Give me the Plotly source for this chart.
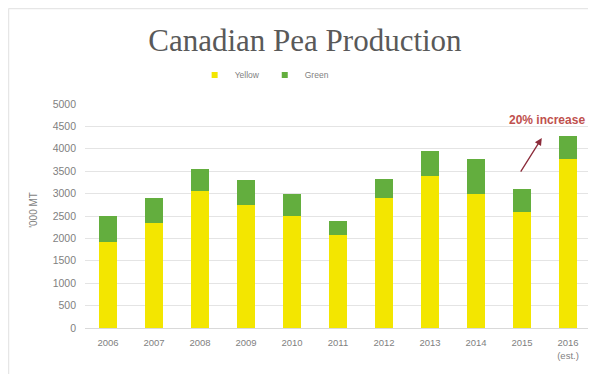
import plotly.graph_objects as go

years = ["2006", "2007", "2008", "2009", "2010", "2011", "2012", "2013", "2014", "2015", "2016<br>(est.)"]
yellow = [1930, 2340, 3050, 2740, 2490, 2080, 2900, 3400, 2990, 2600, 3770]
green = [560, 560, 500, 560, 500, 300, 430, 540, 790, 500, 510]
y_ticks = [0, 500, 1000, 1500, 2000, 2500, 3000, 3500, 4000, 4500, 5000]

YELLOW = "#F3E600"
GREEN = "#63AE3E"
TXT = "#7f7f7f"
FONT = "Liberation Sans, Arial"

fig = go.Figure()
fig.add_trace(go.Bar(x=years, y=yellow, name="Yellow", showlegend=False,
                     marker=dict(color=YELLOW, line=dict(width=0))))
fig.add_trace(go.Bar(x=years, y=green, name="Green", showlegend=False,
                     marker=dict(color=GREEN, line=dict(width=0))))
# legend entries with small square markers
fig.add_trace(go.Scatter(x=[None], y=[None], mode="markers", name="Yellow",
                         marker=dict(symbol="square", size=6, color=YELLOW)))
fig.add_trace(go.Scatter(x=[None], y=[None], mode="markers", name="Green",
                         marker=dict(symbol="square", size=6, color=GREEN)))

total_2016 = yellow[10] + green[10]

fig.add_annotation(
    x=9.43, y=total_2016 - 40, xref="x", yref="y",
    ax=-22, ay=35,
    text="", showarrow=True, arrowhead=2, arrowsize=1.1, arrowwidth=1.3, arrowcolor="#8B2B3A",
)
fig.add_annotation(
    x=0.992, y=4643, xref="paper", yref="y", xanchor="right", yanchor="middle",
    text="<b>20% increase</b>", showarrow=False,
    font=dict(family=FONT, size=12, color="#C0504D"),
)
fig.add_annotation(
    x=-0.101, y=0.527, xref="paper", yref="paper", xanchor="center", yanchor="middle",
    text="'000 MT", textangle=-90, showarrow=False,
    font=dict(family=FONT, size=10, color=TXT),
)

fig.update_layout(
    width=588, height=366,
    paper_bgcolor="white", plot_bgcolor="white",
    barmode="stack", bargap=0.61,
    margin=dict(l=77, r=5, t=96, b=46),
    title=dict(text="Canadian Pea Production", x=0.505, xanchor="center", y=0.9126, yanchor="middle",
               font=dict(family="Liberation Serif, serif", size=31, color="#595959")),
    legend=dict(orientation="h", x=0.355, xanchor="center", y=1.129, yanchor="middle",
                font=dict(family=FONT, size=8.5, color=TXT),
                itemwidth=30, traceorder="normal", bgcolor="rgba(0,0,0,0)"),
    xaxis=dict(type="category", showgrid=False, showline=True, linecolor="#d9d9d9", linewidth=1,
               tickfont=dict(family=FONT, size=9.5, color=TXT), ticks="", automargin=False,
               ticklabelstandoff=6),
    yaxis=dict(range=[0, 5000], tickvals=y_ticks, showgrid=True, gridcolor="#e4e4e4", gridwidth=1,
               zeroline=False, showline=False, automargin=False,
               tickfont=dict(family=FONT, size=10.5, color=TXT), ticklabelstandoff=8),
    shapes=[
        dict(type="line", xref="paper", yref="paper", x0=-0.1512, x1=1.02, y0=1.4263, y1=1.4263,
             line=dict(color="#e6e6e6", width=1.5), layer="below"),
        dict(type="line", xref="paper", yref="paper", x0=-0.1512, x1=-0.1512, y0=-0.21, y1=1.4263,
             line=dict(color="#e6e6e6", width=1.5), layer="below"),
    ],
    showlegend=True,
)

fig.write_html("out.html")
